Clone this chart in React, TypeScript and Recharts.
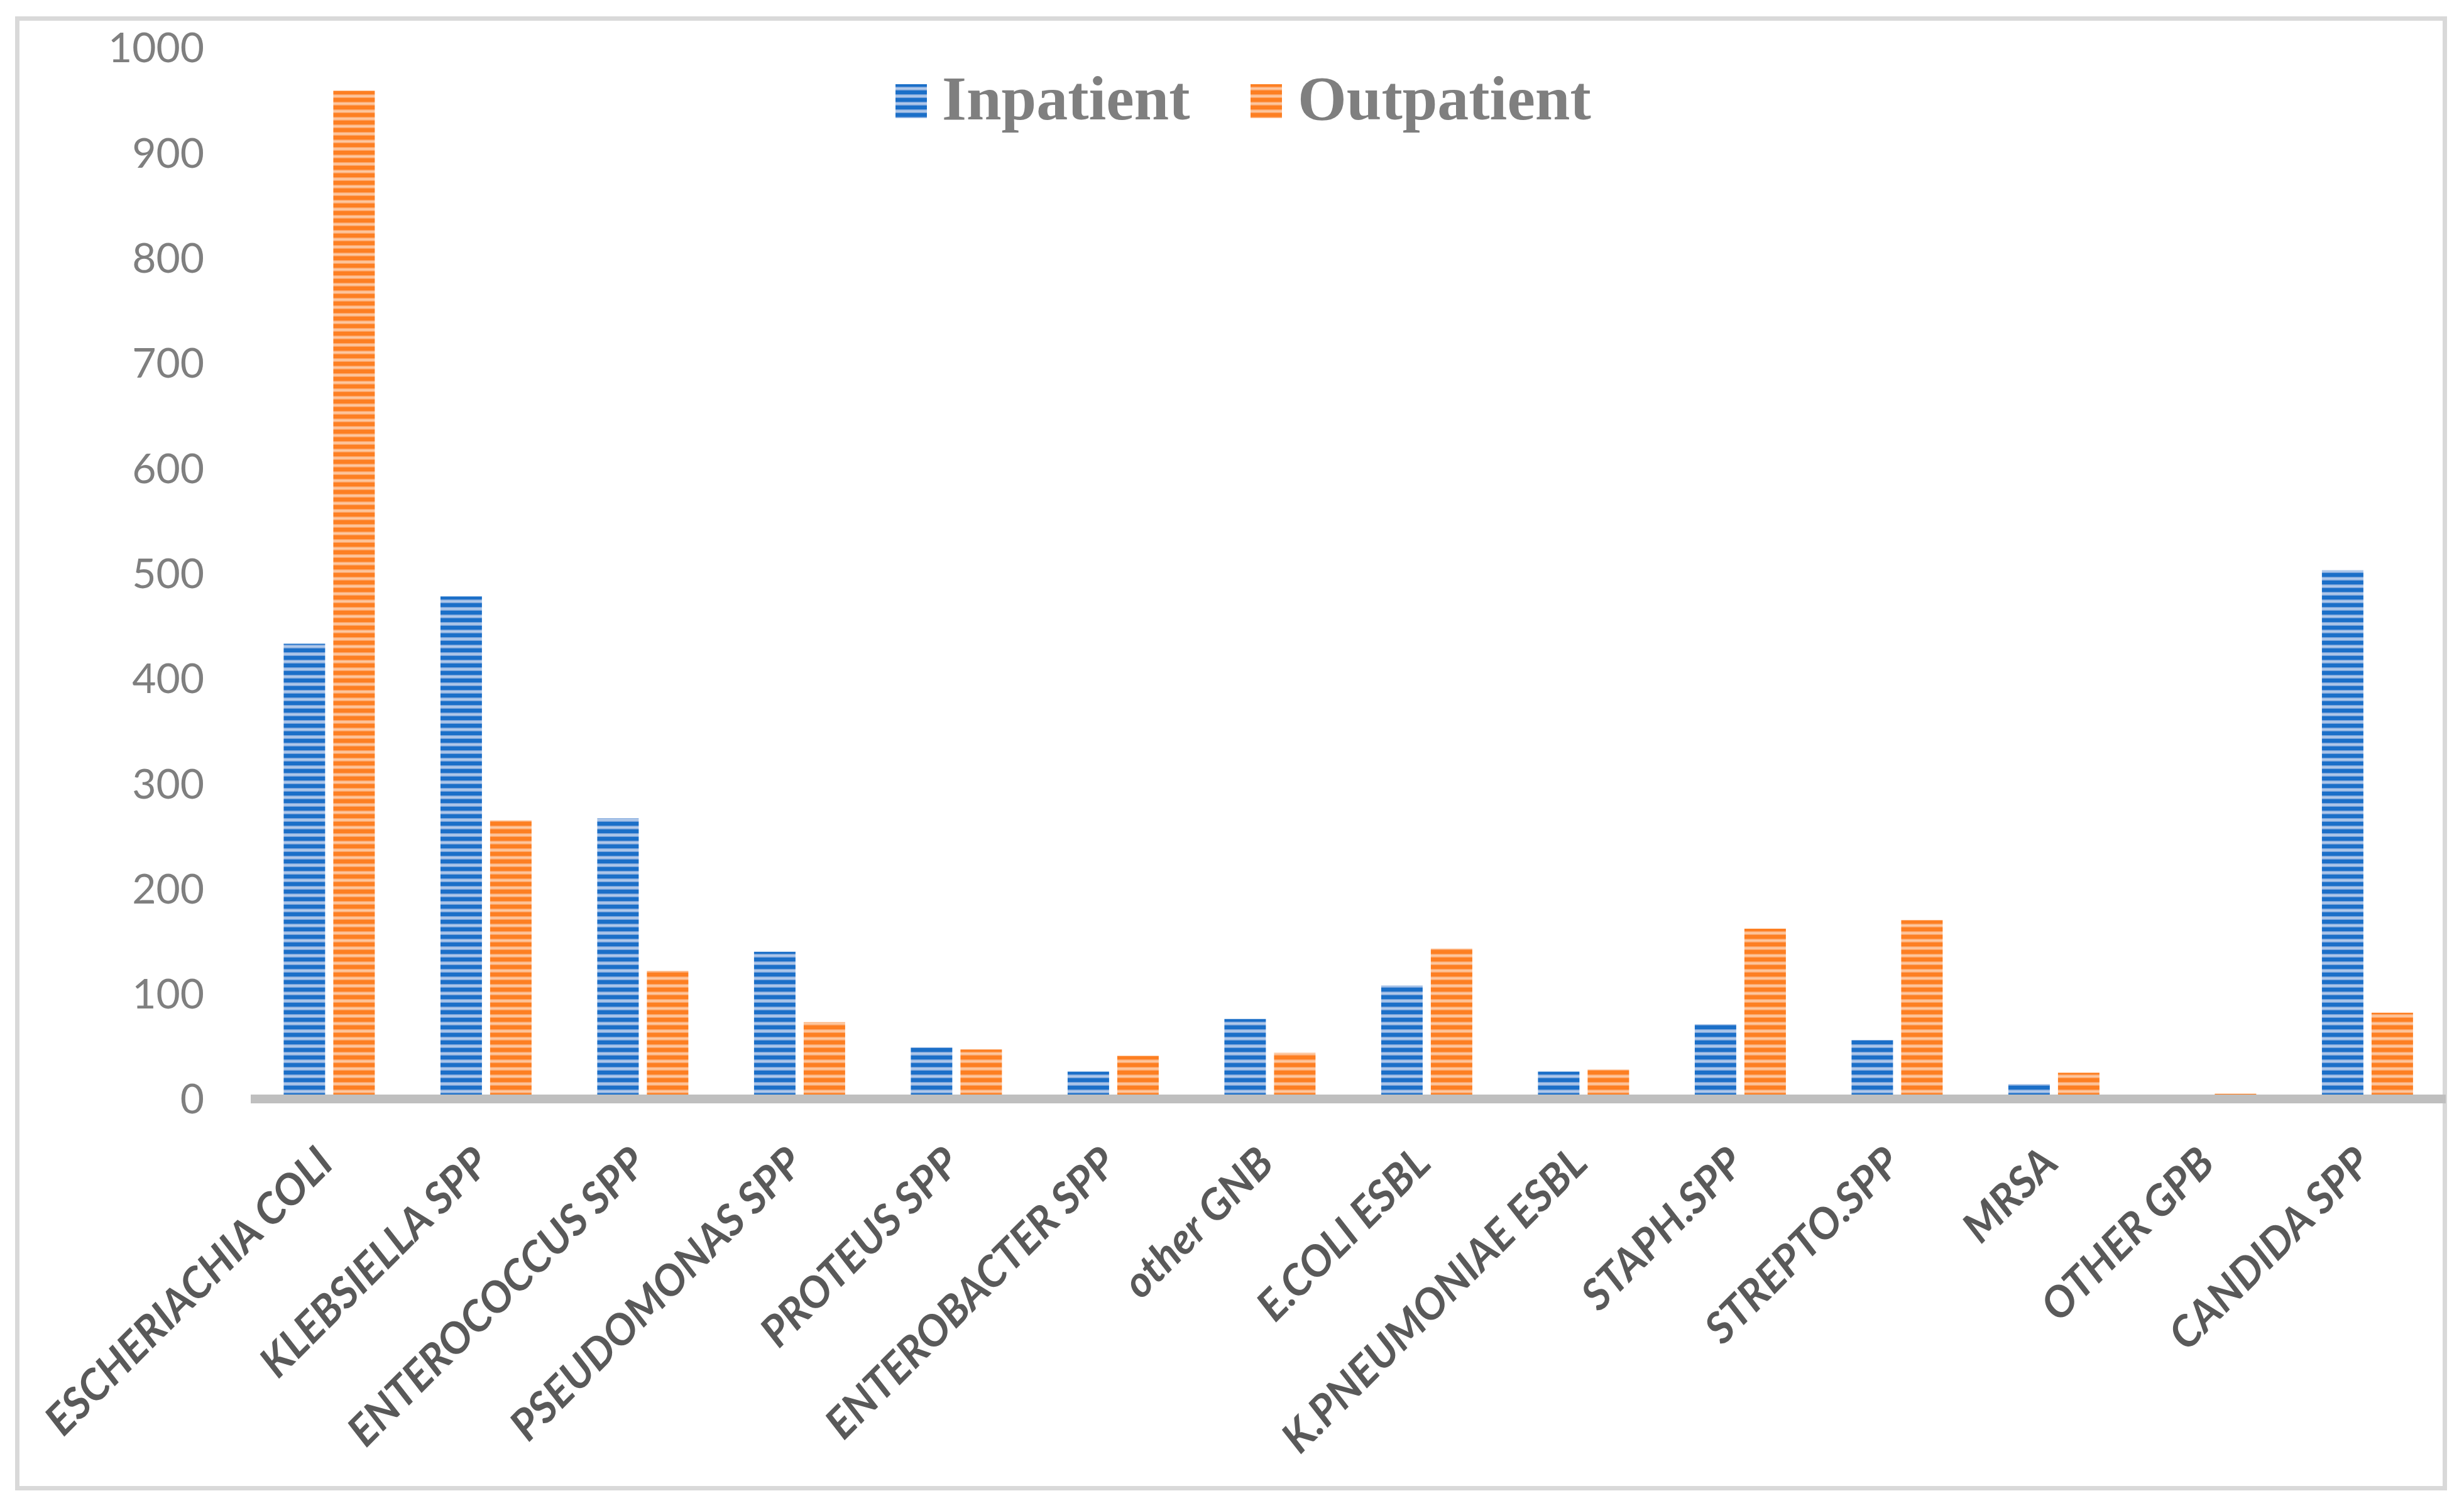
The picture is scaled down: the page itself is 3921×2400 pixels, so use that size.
import { BarChart, Bar, XAxis, YAxis } from 'recharts';

const categories = [
  'ESCHERIACHIA COLI',
  'KLEBSIELLA SPP',
  'ENTEROCOCCUS SPP',
  'PSEUDOMONAS SPP',
  'PROTEUS SPP',
  'ENTEROBACTER SPP',
  'other GNB',
  'E.COLI ESBL',
  'K.PNEUMONIAE ESBL',
  'STAPH.SPP',
  'STREPTO.SPP',
  'MRSA',
  'OTHER GPB',
  'CANDIDA SPP',
];
const inpatient = [433, 478, 267, 140, 49, 26, 76, 108, 26, 71, 56, 14, 0, 503];
const outpatient = [959, 265, 122, 73, 47, 41, 44, 143, 28, 162, 170, 25, 5, 82];
const yTicks = [0, 100, 200, 300, 400, 500, 600, 700, 800, 900, 1000];
const seriesNames = ['Inpatient', 'Outpatient'];

const data = categories.map((name, i) => ({ name, inpatient: inpatient[i], outpatient: outpatient[i] }));

const W = 3921;
const H = 2400;

function XTick({ x, y, payload }: any) {
  return (
    <text
      x={x + 10}
      y={y + 106}
      transform={`rotate(-45, ${x + 10}, ${y + 106})`}
      textAnchor="end"
      fill="#595959"
      fontFamily="Lato"
      fontWeight="bold"
      fontStyle="italic"
      fontSize={68}
    >
      {payload.value}
    </text>
  );
}

function Stripes({ id, dark, light, edge }: { id: string; dark: string; light: string; edge: string }) {
  return (
    <pattern id={id} patternUnits="userSpaceOnUse" width={12} height={12}>
      <rect x={0} y={0} width={12} height={12} fill={light} />
      <rect x={0} y={6} width={12} height={1.5} fill={edge} />
      <rect x={0} y={10.5} width={12} height={1.5} fill={edge} />
      <rect x={0} y={0} width={12} height={6} fill={dark} />
    </pattern>
  );
}

export default function App() {
  return (
    <div style={{ position: 'absolute', left: 0, top: 0, width: W, height: H, background: '#fff' }}>
      <div
        style={{
          position: 'absolute',
          left: 24,
          top: 26,
          width: 3870,
          height: 2346,
          border: '7px solid #d9d9d9',
          boxSizing: 'border-box',
        }}
      />
      <svg style={{ position: 'absolute', left: 0, top: 0 }} width={W} height={H}>
        <defs>
          <Stripes id="legBlue" dark="#1b6fc8" light="#b3caea" edge="#7aa4dc" />
          <Stripes id="legOrange" dark="#fd7f22" light="#fdc9a2" edge="#fda466" />
        </defs>
        <rect x={1425} y={134} width={50} height={54} fill="url(#legBlue)" />
        <text x={1499} y={190} fontFamily="Liberation Serif" fontWeight="bold" fontSize={100} fill="#7f7f7f">
          {seriesNames[0]}
        </text>
        <rect x={1990} y={134} width={50} height={54} fill="url(#legOrange)" />
        <text x={2065} y={190} fontFamily="Liberation Serif" fontWeight="bold" fontSize={100} fill="#7f7f7f">
          {seriesNames[1]}
        </text>
      </svg>
      <div style={{ position: 'absolute', left: 0, top: 0 }}>
        <BarChart
          width={W}
          height={H}
          data={data}
          margin={{ top: 76, right: 29, left: 0, bottom: 51 }}
          barCategoryGap="21%"
          barGap={13}
        >
          <defs>
            <Stripes id="blueStripes" dark="#1b6fc8" light="#b3caea" edge="#7aa4dc" />
            <Stripes id="orangeStripes" dark="#fd7f22" light="#fdc9a2" edge="#fda466" />
          </defs>
          <YAxis
            domain={[0, 1000]}
            ticks={yTicks}
            width={399}
            axisLine={false}
            tickLine={false}
            tickSize={0}
            tickMargin={74}
            tick={{ fill: '#7f7f7f', fontSize: 66, fontFamily: 'Lato' }}
          />
          <Bar dataKey="inpatient" name={seriesNames[0]} fill="url(#blueStripes)" isAnimationActive={false} />
          <Bar dataKey="outpatient" name={seriesNames[1]} fill="url(#orangeStripes)" isAnimationActive={false} />
          <XAxis
            dataKey="name"
            interval={0}
            height={600}
            tickLine={false}
            tickSize={0}
            tickMargin={0}
            axisLine={{ stroke: '#bfbfbf', strokeWidth: 14 }}
            tick={<XTick />}
          />
        </BarChart>
      </div>
    </div>
  );
}
